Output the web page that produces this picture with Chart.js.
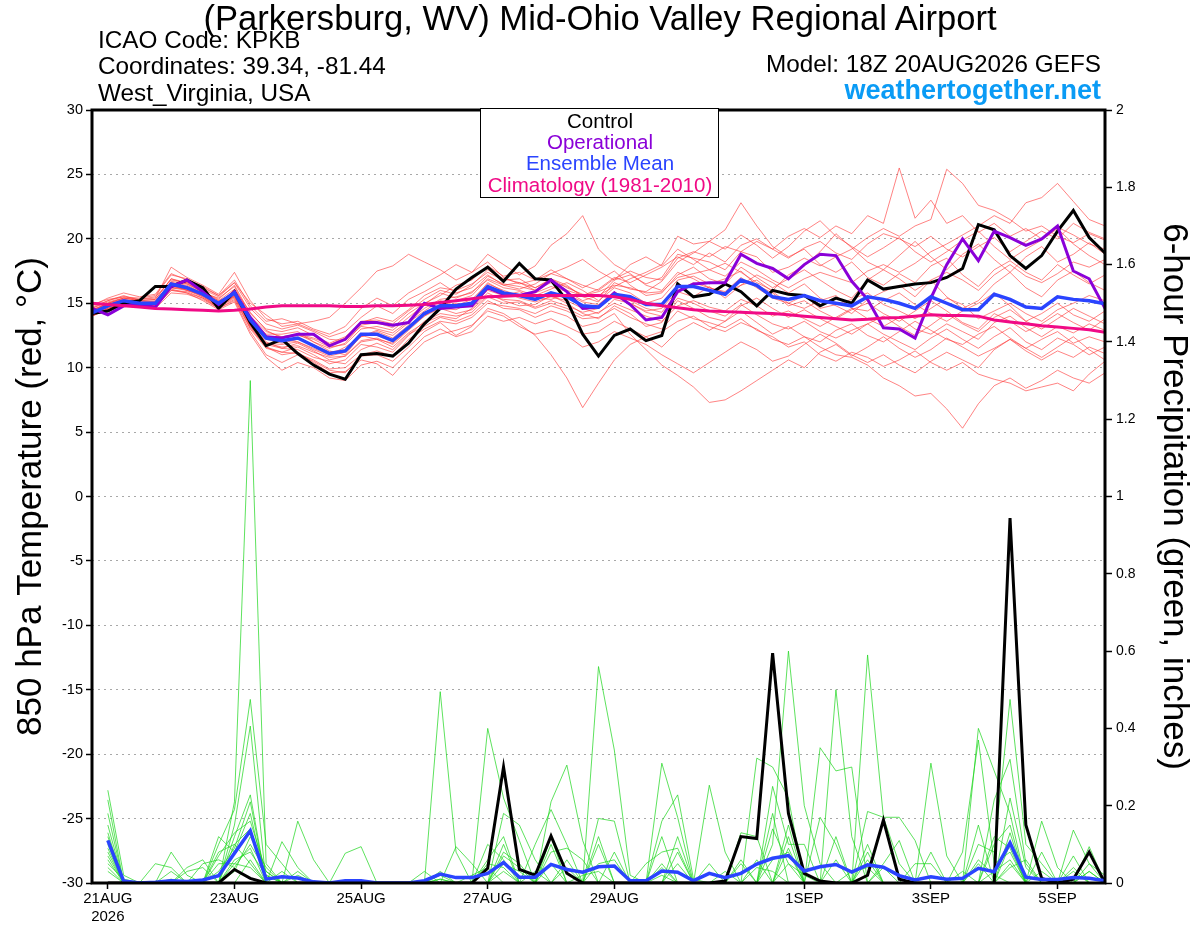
<!DOCTYPE html>
<html><head><meta charset="utf-8">
<script src="https://cdn.jsdelivr.net/npm/chart.js@4.4.1/dist/chart.umd.min.js"></script>
<style>
html,body{margin:0;padding:0;background:#fff;}
#wrap{position:relative;width:1200px;height:927px;overflow:hidden;font-family:'Liberation Sans',Arial,Helvetica,sans-serif;background:#fff;}
#c{position:absolute;left:0;top:0;}
.t{position:absolute;white-space:nowrap;line-height:1;color:#000;}
#legendBox{position:absolute;left:480px;top:108px;width:237px;height:88px;border:1.5px solid #000;background:#fff;}
.lg{position:absolute;left:480px;width:240px;text-align:center;white-space:nowrap;line-height:1;font-size:20.5px;}
</style></head>
<body>
<div id="wrap">
<canvas id="c" width="1200" height="927"></canvas>
<div class="t" style="left:0;width:1200px;text-align:center;top:1px;font-size:34.6px;">(Parkersburg, WV) Mid-Ohio Valley Regional Airport</div>
<div class="t" style="left:98px;top:28px;font-size:24.3px;">ICAO Code: KPKB</div>
<div class="t" style="left:98px;top:54px;font-size:24.3px;">Coordinates: 39.34, -81.44</div>
<div class="t" style="left:98px;top:81px;font-size:24.3px;">West_Virginia, USA</div>
<div class="t" style="right:99px;top:52px;font-size:24.3px;">Model: 18Z 20AUG2026 GEFS</div>
<div class="t" style="right:99px;top:77px;font-size:27px;font-weight:bold;color:#0a9bf5;">weathertogether.net</div>
<div id="legendBox"></div>
<div class="lg" style="top:111px;color:#000;">Control</div>
<div class="lg" style="top:132px;color:#8a00d8;">Operational</div>
<div class="lg" style="top:153px;color:#2a44ff;">Ensemble Mean</div>
<div class="lg" style="top:175px;color:#f00a86;">Climatology (1981-2010)</div>
</div>
<script>
// ---------- time axis ----------
const stepHours = 6; // 6-hourly output starting 18Z 20AUG2026
const tickHours = [6, 54, 102, 150, 198, 270, 318, 366];
const tickLabels = [['21AUG','2026'], '23AUG', '25AUG', '27AUG', '29AUG', '1SEP', '3SEP', '5SEP'];
const tempTicks = [-30,-25,-20,-15,-10,-5,0,5,10,15,20,25,30];
const precipTicks = [0,0.2,0.4,0.6,0.8,1,1.2,1.4,1.6,1.8,2];

// ---------- 850 hPa temperature (C) ----------
const controlT = [14.2,14.4,15.0,15.2,16.3,16.3,16.8,16.2,14.6,15.9,
 13.5,11.7,12.2,11.1,10.2,9.5,9.1,11.0,11.1,10.9,
 11.9,13.4,14.6,16.1,17.0,17.8,16.7,18.1,16.9,16.8,
 15.2,12.6,10.9,12.5,13.0,12.1,12.5,16.5,15.5,15.7,
 16.5,15.9,14.8,16.0,15.7,15.6,14.8,15.4,15.0,16.8,
 16.1,16.3,16.5,16.6,17.0,17.7,21.1,20.7,18.7,17.7,
 18.7,20.6,22.2,20.1,18.9];
const operationalT = [14.6,14.1,14.8,14.9,14.7,16.3,16.8,15.9,14.9,15.9,
 13.9,12.4,12.3,12.6,12.6,11.7,12.2,13.5,13.5,13.3,
 13.5,15.0,14.6,14.7,14.8,16.2,15.7,15.6,15.9,16.8,
 15.9,14.6,14.7,15.8,14.9,13.7,13.9,15.9,16.5,16.6,
 16.6,18.8,18.1,17.7,16.9,18.0,18.8,18.7,16.7,15.3,
 13.1,13.0,12.3,15.4,18.0,20.0,18.3,20.6,20.1,19.5,
 20.0,21.0,17.5,16.9,14.6];
const meanT = [14.25,14.8,15.2,15.0,15.0,16.5,16.2,15.7,15.0,15.8,
 13.7,12.3,12.1,12.3,11.7,11.1,11.3,12.6,12.6,12.1,
 13.1,14.2,14.8,14.8,15.0,16.3,15.8,15.6,15.3,15.8,
 15.5,14.8,14.7,15.7,15.5,14.9,14.9,16.3,16.3,16.0,
 15.7,16.8,16.4,15.5,15.3,15.6,15.2,15.0,14.8,15.5,
 15.3,15.0,14.6,15.5,15.0,14.5,14.5,15.7,15.3,14.7,
 14.6,15.5,15.3,15.2,14.95];
const climoT = [15.0,14.9,14.8,14.7,14.6,14.55,14.5,14.45,14.4,14.45,
 14.55,14.7,14.8,14.8,14.8,14.8,14.75,14.75,14.8,14.8,
 14.85,14.9,15.05,15.2,15.35,15.5,15.55,15.6,15.6,15.6,
 15.6,15.6,15.6,15.5,15.3,15.0,14.8,14.65,14.5,14.4,
 14.35,14.3,14.25,14.2,14.1,14.0,13.9,13.8,13.7,13.75,
 13.85,13.9,14.0,14.1,14.05,14.05,14.0,13.7,13.55,13.4,
 13.25,13.15,13.05,12.95,12.75];

const member01T = [14.6,15.1,15.4,15.2,15.3,16.9,16.5,15.9,15.3,16.4,
 14.2,13.0,12.8,13.1,12.5,11.9,12.4,13.5,13.9,13.6,
 14.5,15.6,16.2,16.0,16.5,17.4,16.8,16.9,16.2,16.8,
 16.0,15.6,16.1,17.0,16.6,17.2,17.8,18.6,18.0,18.9,
 18.2,19.5,20.0,19.2,20.2,20.8,20.1,21.0,20.4,21.8,
 21.2,25.5,21.6,23.0,21.2,21.8,20.5,21.2,20.2,20.8,
 20.0,20.9,20.3,19.6,19.2];
const member02T = [14.0,14.6,15.0,14.9,14.8,16.2,16.0,15.5,14.8,15.6,
 13.5,12.0,11.5,11.9,11.3,10.6,10.9,12.1,12.3,11.8,
 12.9,14.0,14.9,15.2,15.6,16.9,16.4,16.6,16.0,16.9,
 16.2,15.7,15.5,16.8,17.2,16.5,17.0,18.8,18.5,18.2,
 17.6,19.0,18.6,17.4,17.8,18.5,17.9,18.6,19.2,20.1,
 20.8,20.2,21.0,21.5,25.4,24.3,22.6,22.2,21.5,20.6,
 21.0,20.2,19.7,20.4,19.9];
const member03T = [14.9,15.3,15.5,15.4,15.6,17.2,16.9,16.2,15.6,16.6,
 14.6,13.4,13.0,13.3,12.8,12.2,12.1,13.2,13.0,12.7,
 13.6,14.6,15.3,15.5,15.8,17.1,16.5,16.3,16.0,16.6,
 16.3,15.6,15.9,16.4,16.2,15.8,15.9,17.0,17.3,17.6,
 17.1,18.2,17.6,16.8,16.2,16.9,17.4,17.0,16.6,17.5,
 18.0,17.4,18.1,19.0,19.6,20.3,21.0,21.8,21.2,22.8,
 23.2,24.3,22.9,21.5,21.0];
const member04T = [14.4,15.0,15.3,15.1,15.2,16.6,16.4,15.8,15.0,15.9,
 13.9,12.6,12.6,12.8,12.0,11.5,11.9,13.3,13.5,13.1,
 14.2,15.0,15.6,16.4,16.8,17.9,17.1,17.4,16.8,17.3,
 16.9,16.4,16.0,16.9,17.5,17.0,16.8,18.5,19.0,18.6,
 19.4,19.0,19.8,19.2,18.5,19.3,19.8,18.9,18.4,19.6,
 20.4,20.0,19.4,20.2,19.2,18.6,19.4,20.1,19.0,19.8,
 20.6,20.0,21.2,20.5,20.0];
const member05T = [14.7,15.2,15.5,15.3,15.4,17.8,17.0,16.4,15.7,17.4,
 15.2,13.8,13.4,13.6,13.0,12.6,13.2,14.6,15.4,14.8,
 15.8,16.5,17.2,18.0,17.4,18.8,18.0,17.2,17.9,19.5,
 20.4,21.8,19.2,18.0,17.3,16.4,16.0,17.4,16.9,16.2,
 15.8,16.4,17.2,16.6,15.8,16.5,15.4,14.8,14.2,15.3,
 15.9,16.4,15.5,16.8,17.4,16.8,16.0,17.2,18.0,17.1,
 16.6,17.3,18.2,17.8,18.4];
const member06T = [14.3,14.9,15.2,15.0,14.9,16.4,16.3,15.6,14.9,15.7,
 13.8,12.5,12.2,12.0,11.5,11.0,11.6,12.4,12.9,12.5,
 13.5,14.4,15.2,14.8,15.3,16.5,16.0,15.6,15.8,16.3,
 15.9,15.2,15.6,16.3,16.9,17.4,18.0,20.2,19.6,19.8,
 20.7,22.8,21.0,19.4,18.6,19.2,18.0,17.4,18.2,17.0,
 16.4,17.3,16.6,17.9,18.5,17.2,16.3,17.6,18.3,17.4,
 16.8,18.0,17.2,16.5,17.2];
const member07T = [14.5,15.0,15.4,15.3,15.5,16.8,16.6,16.1,15.5,16.6,
 15.0,14.1,13.2,13.4,13.6,13.9,15.0,16.2,17.5,17.9,
 18.8,18.2,17.6,16.8,17.4,18.2,17.0,16.5,16.8,17.6,
 16.9,16.2,16.8,17.5,16.4,15.6,15.8,17.2,17.8,16.9,
 16.5,17.8,17.0,16.2,16.9,17.6,16.8,16.0,15.4,16.8,
 17.6,16.9,16.0,16.8,15.5,14.6,15.2,16.5,17.4,16.2,
 15.5,16.8,17.5,16.6,16.0];
const member08T = [14.1,14.7,15.1,14.9,15.0,16.5,16.0,15.7,15.1,15.9,
 13.6,12.2,12.4,12.6,12.0,11.3,11.0,12.5,12.2,11.9,
 13.0,14.3,14.6,14.5,15.1,16.6,15.9,15.4,15.1,15.5,
 15.2,14.6,14.2,15.3,15.0,14.4,14.6,16.0,16.6,16.2,
 15.9,17.0,16.2,15.4,15.0,15.6,14.6,14.9,15.3,15.8,
 14.9,14.4,13.8,14.6,15.4,14.9,13.8,14.4,15.0,14.2,
 13.6,14.5,15.0,15.6,15.2];
const member09T = [14.3,14.9,15.3,15.0,15.1,16.6,16.3,15.6,14.8,15.6,
 13.4,11.9,11.8,12.0,11.4,10.9,11.2,12.4,12.8,12.3,
 13.3,14.1,14.6,15.0,14.8,16.0,15.6,15.9,15.4,15.3,
 15.7,15.1,14.9,15.9,15.2,14.6,14.3,15.9,15.5,16.3,
 15.4,16.4,16.8,15.9,15.0,14.6,15.2,15.6,14.6,14.4,
 15.2,15.8,14.9,14.2,13.6,14.4,15.0,15.8,14.8,13.6,
 14.2,15.0,14.1,13.6,14.4];
const member10T = [14.0,14.5,14.9,14.8,14.7,16.0,15.9,15.4,14.7,15.4,
 13.0,11.5,11.2,11.6,11.0,10.3,10.6,11.8,11.6,11.2,
 12.5,13.6,14.2,14.0,14.3,15.5,15.0,15.1,14.6,15.0,
 14.6,14.0,14.3,15.0,14.5,14.0,13.6,14.8,15.2,14.7,
 14.4,15.3,14.8,14.0,14.4,13.8,13.2,13.9,14.6,13.8,
 13.2,13.9,13.0,12.6,13.4,12.8,12.2,13.5,14.0,13.1,
 12.4,13.2,12.7,13.4,12.9];
const member11T = [14.2,14.6,15.0,14.8,14.6,15.8,15.7,15.3,14.6,15.2,
 12.8,11.0,10.4,11.0,10.5,9.8,9.6,10.9,11.0,10.5,
 11.6,12.8,13.5,12.5,13.2,14.6,14.2,13.4,12.5,11.0,
 9.2,6.9,8.8,10.6,11.8,12.4,11.6,12.8,13.5,12.9,
 13.6,14.4,13.5,12.6,13.2,12.4,12.0,12.9,13.4,12.5,
 12.0,12.8,13.6,12.9,12.2,11.8,12.6,13.2,12.3,11.5,
 12.2,12.8,11.9,12.4,12.0];
const member12T = [14.4,14.8,15.1,15.0,14.9,16.2,16.1,15.6,14.9,15.5,
 13.3,11.8,11.5,11.4,10.8,10.5,10.3,11.4,11.9,11.4,
 12.6,13.2,13.9,13.6,14.1,15.2,14.6,14.5,13.9,14.4,
 14.0,13.2,13.5,14.2,12.6,11.4,10.2,9.4,8.5,7.3,
 7.5,8.2,9.0,9.8,10.6,10.0,11.2,11.8,10.9,11.6,
 12.4,11.5,10.8,11.4,12.3,11.6,10.9,11.5,12.2,11.3,
 10.6,11.3,10.8,11.6,11.1];
const member13T = [14.1,14.5,14.8,14.7,14.8,16.0,15.8,15.2,14.5,15.1,
 12.6,10.8,9.8,10.4,10.0,9.2,9.0,10.2,10.5,10.0,
 11.2,12.4,13.0,12.4,12.8,14.0,13.6,13.9,13.4,13.8,
 13.2,12.6,12.8,13.6,13.0,12.4,12.8,13.6,14.0,13.2,
 12.8,13.5,13.0,12.2,11.8,12.4,11.6,11.0,10.8,10.2,
 9.2,8.6,7.8,8.0,6.8,5.3,7.2,8.6,9.2,8.4,
 9.0,9.8,9.2,8.8,9.6];
const member14T = [14.5,14.9,15.2,15.1,15.0,16.3,16.2,15.8,15.2,15.7,
 13.2,11.6,11.2,11.1,10.6,9.9,10.0,11.0,11.3,10.9,
 12.2,13.0,13.6,13.4,13.9,15.0,14.8,14.6,14.2,14.8,
 14.4,13.8,13.9,14.6,13.9,13.4,13.0,14.4,13.8,13.5,
 13.1,13.8,12.9,12.4,11.6,12.0,11.0,10.5,11.2,10.8,
 10.1,10.6,11.3,10.4,9.8,10.4,9.5,9.1,8.8,8.2,
 8.5,8.8,8.2,9.5,10.5];
const member15T = [14.0,14.6,15.0,14.8,14.9,16.1,15.8,15.4,14.6,15.3,
 13.1,11.6,11.0,11.2,10.4,9.6,9.7,10.6,10.3,9.4,
 10.8,12.0,12.6,12.9,13.3,14.4,14.0,13.2,12.6,12.9,
 12.5,11.6,12.0,12.8,12.3,11.8,11.0,10.3,9.6,10.4,
 11.2,12.0,11.4,10.5,10.9,11.8,12.6,11.9,11.0,10.4,
 11.0,10.2,9.6,10.5,11.2,10.6,10.0,11.4,12.2,11.5,
 10.8,11.6,12.4,11.4,10.6];
const member16T = [14.8,15.4,15.8,15.5,15.7,17.3,16.8,16.3,15.6,16.8,
 14.8,13.6,13.8,13.4,12.9,12.4,12.8,13.9,14.8,14.2,
 15.3,15.9,16.6,15.8,16.2,17.2,16.4,16.1,16.5,17.3,
 17.8,18.4,17.5,16.8,18.0,18.6,17.9,19.2,18.4,17.6,
 18.1,17.4,16.6,16.0,17.2,17.9,19.0,20.4,19.3,18.2,
 17.6,18.7,19.8,18.6,17.6,18.8,19.6,18.4,17.4,18.6,
 19.4,18.2,18.8,19.7,18.8];
const member17T = [14.6,15.2,15.6,15.2,15.1,16.7,16.5,15.9,15.2,16.1,
 14.3,12.9,12.3,12.5,12.2,11.6,11.8,13.0,13.2,12.9,
 13.9,14.9,15.8,15.4,15.9,16.8,16.2,16.0,15.6,16.1,
 16.6,16.0,15.2,16.2,15.8,15.0,15.4,16.8,17.1,16.5,
 16.9,17.5,16.4,15.8,14.8,15.2,14.4,13.8,14.5,15.0,
 14.2,13.6,14.4,15.2,14.4,13.5,13.0,14.2,13.6,12.8,
 13.4,14.2,13.5,12.9,13.8];
const member18T = [14.2,14.7,15.1,14.9,14.8,16.3,16.1,15.5,14.7,15.5,
 13.2,11.9,11.6,11.7,11.2,10.8,10.9,12.0,12.2,11.6,
 12.7,13.5,14.0,13.8,14.6,15.8,15.2,14.8,14.9,15.6,
 15.0,14.2,13.8,14.8,14.2,13.2,13.5,15.2,14.6,13.9,
 13.6,14.8,15.4,14.6,13.9,14.5,13.8,13.2,12.6,13.4,
 14.0,13.2,12.5,13.3,14.2,13.4,12.8,13.9,14.5,13.6,
 13.0,13.8,14.6,14.0,13.4];
const member19T = [14.4,15.0,15.4,15.2,15.3,16.9,16.6,15.8,15.4,16.3,
 14.0,12.8,12.4,12.6,12.3,11.8,12.3,13.6,13.7,13.4,
 14.4,15.3,16.0,15.7,16.4,17.6,16.9,16.6,16.2,16.9,
 16.4,15.5,15.1,16.6,16.1,15.9,16.7,18.2,18.9,19.8,
 19.2,20.3,19.5,18.5,19.4,20.6,21.4,20.2,19.4,18.6,
 19.3,20.1,19.0,18.2,19.0,19.9,20.6,19.4,18.4,19.2,
 19.9,20.8,19.6,18.7,18.0];
const member20T = [14.3,14.8,15.2,15.0,15.1,16.4,16.0,15.6,14.8,15.6,
 13.5,12.2,11.9,12.2,11.8,11.2,11.4,12.6,12.5,12.0,
 13.1,14.0,14.6,14.2,14.5,15.6,15.3,15.2,14.7,15.2,
 14.8,14.3,14.6,15.6,15.0,14.3,14.0,15.4,15.0,14.4,
 14.0,14.9,14.1,13.4,13.0,13.6,12.8,12.3,12.9,13.4,
 12.6,12.0,11.4,12.3,13.0,12.2,11.5,12.4,13.1,12.0,
 11.4,12.3,11.8,11.0,11.6];
const memberTemps = [member01T,member02T,member03T,member04T,member05T,member06T,member07T,member08T,
 member09T,member10T,member11T,member12T,member13T,member14T,member15T,member16T,
 member17T,member18T,member19T,member20T];

// ---------- 6-hour precipitation (inches) ----------
const controlP = [null,0,0,0,0,0,0,0,0,0.035,
 0.012,0,0,0,0,0,0,0,0,0,
 0,0,0,0,0,0.038,0.30,0.035,0.02,0.122,
 0.025,0,0,0,0,0,0,0,0,0,
 0.005,0.12,0.115,0.595,0.18,0.025,0.005,0,0,0.02,
 0.163,0.01,0,0,0,0,0,0,0.944,0.15,
 0.012,0,0.01,0.08,0];
const meanP = [null,0.11,0.005,0,0.002,0.006,0.004,0.008,0.019,0.077,
 0.135,0.01,0.016,0.013,0.003,0,0.006,0.006,0,0,
 0,0.006,0.023,0.014,0.014,0.025,0.053,0.015,0.015,0.048,
 0.035,0.028,0.042,0.044,0.006,0.006,0.031,0.028,0.006,0.025,
 0.014,0.025,0.049,0.064,0.071,0.031,0.042,0.048,0.028,0.047,
 0.041,0.019,0.008,0.016,0.010,0.012,0.038,0.029,0.104,0.015,
 0.009,0.009,0.014,0.012,0.006];
const member01P = [null,0.24,0.02,0,0,0,0,0,0,0.21,
 1.30,0.05,0,0,0,0,0,0,0,0,
 0,0,0.02,0,0,0,0.08,0.05,0,0,
 0,0,0,0,0,0,0.31,0.17,0,0,
 0,0,0,0,0.12,0,0,0,0,0.59,
 0.17,0.05,0,0,0,0,0,0,0.13,0,
 0,0,0.07,0,0];
const member02P = [null,0.215,0,0,0,0,0,0,0.10,0.19,
 0.475,0.10,0.05,0,0,0,0,0,0,0,
 0,0,0.495,0.08,0,0,0,0,0,0,
 0,0,0.56,0.344,0.02,0,0,0,0,0,
 0,0,0,0.10,0.60,0.20,0.05,0,0,0,
 0,0,0,0,0,0,0.10,0.08,0.475,0.10,
 0.05,0,0,0,0];
const member03P = [null,0.18,0,0,0,0.08,0.02,0,0,0.15,
 0.406,0,0.107,0.04,0,0,0,0,0,0,
 0,0,0,0,0,0.40,0.22,0.11,0,0,
 0,0,0,0,0,0,0,0,0,0.253,
 0.08,0,0,0,0,0,0,0.50,0.12,0,
 0,0,0,0,0,0,0.40,0.29,0.18,0,
 0,0,0,0.094,0];
const member04P = [null,0.15,0,0,0.05,0.04,0,0,0,0.12,
 0.228,0,0,0.16,0.06,0,0,0,0,0,
 0,0,0,0,0,0,0,0,0,0.21,
 0.305,0.11,0,0,0,0,0,0,0,0,
 0,0,0.323,0.30,0.22,0,0,0,0,0,
 0,0,0,0.31,0.07,0,0,0,0,0,
 0,0,0.137,0.05,0];
const member05P = [null,0.12,0,0,0,0,0,0,0.12,0.08,
 0.18,0,0,0,0,0,0.077,0.094,0,0,
 0,0,0,0.094,0.05,0,0.18,0.15,0.06,0,
 0,0,0,0,0,0,0.16,0.228,0.01,0,
 0,0,0,0,0,0,0.35,0.29,0.30,0,
 0,0,0,0,0,0,0,0.215,0.32,0.05,
 0,0,0,0,0];
const member06P = [null,0.10,0,0,0,0,0,0.05,0.06,0.04,
 0.10,0.03,0,0,0,0,0,0,0,0,
 0,0.03,0,0,0,0,0,0,0.10,0.19,
 0.10,0,0.167,0.16,0,0,0,0,0,0,
 0,0.13,0.12,0,0,0,0,0,0,0.185,
 0.17,0.17,0.11,0,0,0,0,0,0,0,
 0.16,0.04,0,0,0];
const member07P = [null,0.08,0,0,0,0,0.04,0.06,0,0,
 0.06,0,0.03,0,0,0,0,0,0,0,
 0,0,0,0,0,0.10,0.06,0,0,0.08,
 0.09,0.06,0,0,0,0.05,0.08,0.09,0,0,
 0,0,0,0.25,0.10,0.10,0,0,0,0,
 0,0,0,0,0,0.08,0.37,0.05,0.08,0,
 0,0,0,0.05,0.02];
const member08P = [null,0.06,0,0,0,0,0,0,0.08,0.10,
 0.05,0,0,0,0,0,0,0,0,0,
 0,0,0.01,0,0,0,0.05,0.03,0,0,
 0,0,0.05,0.06,0,0,0,0,0,0.05,
 0,0.06,0,0,0,0,0.17,0.10,0,0.08,
 0,0,0.05,0.05,0,0.03,0,0,0.05,0,
 0,0,0,0,0];
const member09P = [null,0.05,0.01,0,0,0,0.03,0.04,0,0.06,
 0.08,0.02,0,0,0,0,0,0,0,0,
 0,0,0,0,0.02,0.04,0,0,0,0.05,
 0,0,0,0,0,0,0.04,0,0,0,
 0,0,0,0.06,0.08,0,0,0,0,0,
 0.05,0.11,0,0,0,0,0.06,0.02,0,0,
 0.03,0,0.03,0,0];
const member10P = [null,0.04,0,0,0,0.01,0,0,0.05,0.05,
 0.04,0,0,0,0,0,0,0,0,0,
 0,0,0.01,0,0,0,0,0,0.03,0,
 0,0.02,0.03,0,0,0,0,0.05,0,0,
 0.03,0,0,0,0.05,0.02,0,0,0,0,
 0,0,0,0,0,0,0,0,0.04,0.06,
 0,0,0,0.03,0];
const member11P = [null,0.03,0,0,0,0,0,0,0,0.03,
 0.12,0.04,0,0,0,0,0,0,0,0,
 0,0,0,0,0,0,0.03,0,0,0,
 0.04,0,0,0,0,0,0.02,0,0,0,
 0,0,0.04,0.03,0,0,0,0,0.03,0.04,
 0,0,0,0,0,0,0,0.03,0.06,0,
 0,0,0,0,0];
const member12P = [null,0.09,0,0,0,0,0,0,0,0.10,
 0.14,0.02,0,0,0,0,0,0,0,0,
 0,0,0,0,0,0,0.10,0,0,0.12,
 0,0,0,0,0,0,0.12,0,0,0,
 0,0,0,0,0.15,0,0,0.12,0,0,
 0,0,0,0,0,0,0.15,0,0.22,0.04,
 0,0,0,0,0];
const member13P = [null,0.13,0,0,0,0,0,0,0.03,0.09,
 0.21,0,0,0.02,0,0,0,0,0,0,
 0,0,0,0,0,0.06,0.12,0,0,0,
 0,0,0.10,0,0,0,0,0.12,0,0,
 0,0,0,0.18,0,0,0,0,0,0.10,
 0,0,0,0.08,0,0,0,0.10,0.15,0,
 0,0,0.04,0,0];
const member14P = [null,0.07,0,0,0,0.03,0,0,0,0.05,
 0.09,0,0,0.03,0,0,0,0,0,0,
 0,0,0.03,0,0,0.05,0.04,0,0,0,
 0.06,0,0,0.08,0,0,0.05,0,0,0,
 0,0,0.06,0,0.09,0,0,0.06,0,0,
 0.04,0,0,0,0,0,0.05,0,0.10,0,
 0,0,0,0.03,0];
const member15P = [null,0.11,0,0,0,0,0,0,0.07,0.13,
 0.16,0.03,0,0,0,0,0,0,0,0,
 0,0,0,0,0,0,0.07,0.04,0,0.10,
 0,0,0.12,0,0,0,0,0.08,0,0,
 0,0.05,0,0.14,0.05,0,0,0,0,0.06,
 0,0,0,0,0,0,0,0.12,0.09,0,
 0.08,0,0,0,0];
const memberPrecip = [member01P,member02P,member03P,member04P,member05P,member06P,member07P,
 member08P,member09P,member10P,member11P,member12P,member13P,member14P,member15P];

// ---------- chart ----------
Chart.defaults.font.family = "'Liberation Sans', Arial, Helvetica, sans-serif";
Chart.defaults.color = '#000';
const pts = arr => arr.map((v, i) => ({x: i * stepHours, y: v}));

const datasets = [];
memberTemps.forEach(m => datasets.push({data: pts(m), yAxisID: 'yT', borderColor: 'rgba(255,60,60,0.8)', borderWidth: 0.8, order: 20}));
memberPrecip.forEach(m => datasets.push({data: pts(m), yAxisID: 'yP', borderColor: 'rgba(30,215,30,0.9)', borderWidth: 0.8, order: 15}));
datasets.push({data: pts(controlP), yAxisID: 'yP', borderColor: '#000', borderWidth: 3, order: 6});
datasets.push({data: pts(meanP), yAxisID: 'yP', borderColor: '#2a44ff', borderWidth: 3.5, order: 5});
datasets.push({data: pts(controlT), yAxisID: 'yT', borderColor: '#000', borderWidth: 3, order: 4});
datasets.push({data: pts(operationalT), yAxisID: 'yT', borderColor: '#8a00d8', borderWidth: 3, order: 3});
datasets.push({data: pts(meanT), yAxisID: 'yT', borderColor: '#2a44ff', borderWidth: 3.5, order: 2});
datasets.push({data: pts(climoT), yAxisID: 'yT', borderColor: '#f00a86', borderWidth: 3, order: 1});

const framePlugin = {
  id: 'frame',
  afterDraw(chart) {
    const {ctx, chartArea: a} = chart;
    ctx.save();
    ctx.strokeStyle = '#000';
    ctx.lineWidth = 3;
    ctx.strokeRect(a.left, a.top, a.right - a.left, a.bottom - a.top);
    ctx.restore();
  }
};

new Chart(document.getElementById('c'), {
  type: 'line',
  data: {datasets},
  plugins: [framePlugin],
  options: {
    responsive: false,
    animation: false,
    devicePixelRatio: 1,
    layout: {padding: {top: 110, left: 0, right: 0, bottom: 0}},
    plugins: {legend: {display: false}, tooltip: {enabled: false}, title: {display: false}},
    elements: {point: {radius: 0}, line: {tension: 0, fill: false}},
    scales: {
      x: {
        type: 'linear', position: 'bottom', min: 0, max: 384,
        afterBuildTicks: ax => { ax.ticks = tickHours.map(v => ({value: v})); },
        afterFit: s => { s.height = 44; },
        ticks: {autoSkip: false, maxRotation: 0, minRotation: 0, font: {size: 15}, padding: 1,
                callback: (v, i) => tickLabels[i]},
        grid: {drawOnChartArea: false, drawTicks: true, tickLength: 6, tickColor: '#000', tickWidth: 1.5},
        border: {display: false}
      },
      yT: {
        type: 'linear', position: 'left', min: -30, max: 30,
        afterBuildTicks: ax => { ax.ticks = tempTicks.map(v => ({value: v})); },
        ticks: {font: {size: 14.5}, padding: 3, callback: v => String(v)},
        grid: {color: '#a8a8a8', lineWidth: 1, tickColor: '#000', tickLength: 6, tickWidth: 1.5},
        border: {display: false, dash: [2, 4]},
        title: {display: true, text: '850 hPa Temperature (red, °C)', font: {size: 35}, padding: {top: 10, bottom: 0}},
        afterFit: s => { s.width = 92; }
      },
      yP: {
        type: 'linear', position: 'right', min: 0, max: 2,
        afterBuildTicks: ax => { ax.ticks = precipTicks.map(v => ({value: v})); },
        ticks: {font: {size: 14}, padding: 4, callback: v => String(Math.round(v * 10) / 10)},
        grid: {drawOnChartArea: false, tickColor: '#000', tickLength: 7, tickWidth: 1.5},
        border: {display: false},
        title: {display: true, text: '6-hour Precipitation (green, inches)', font: {size: 35}, padding: {top: 5, bottom: 0}},
        afterFit: s => { s.width = 95; }
      }
    }
  }
});
</script>
</body></html>
